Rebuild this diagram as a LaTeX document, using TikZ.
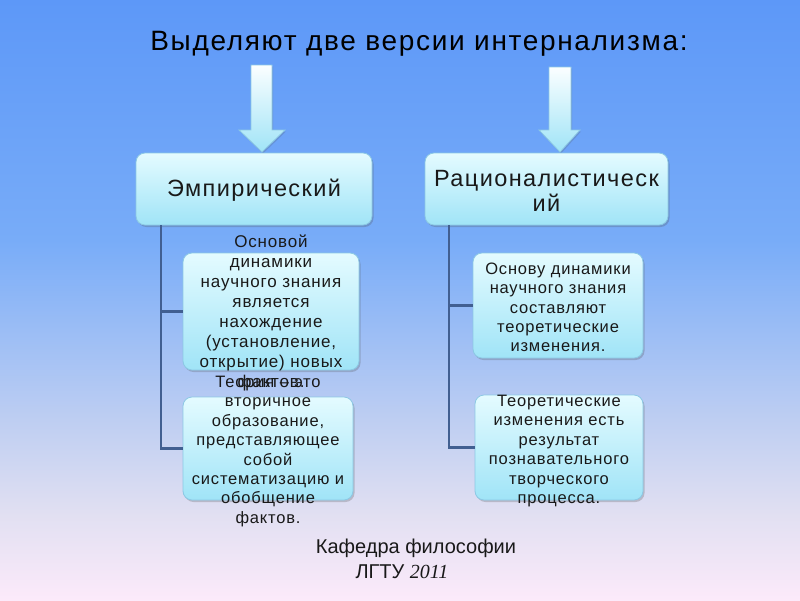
\documentclass[tikz,border=0pt]{standalone}
\usepackage{fontspec}
\setmainfont{Liberation Sans}
\newfontfamily\timesit{Liberation Serif}
\newfontfamily\titlefont[LetterSpace=6]{Liberation Sans}
\newfontfamily\boxfont[LetterSpace=6]{Liberation Sans}
\newfontfamily\smallfont[LetterSpace=5]{Liberation Sans}
\usetikzlibrary{shadows}
\definecolor{bgA}{RGB}{93,152,248}
\definecolor{bgB}{RGB}{120,172,248}
\definecolor{bgC}{RGB}{190,206,242}
\definecolor{bgD}{RGB}{226,224,242}
\definecolor{bgE}{RGB}{252,234,250}
\pgfdeclareverticalshading{bgshade}{100bp}{color(0bp)=(bgE); color(25bp)=(bgE); color(32bp)=(bgD); color(40bp)=(bgC); color(55bp)=(bgB); color(75bp)=(bgA); color(100bp)=(bgA)}
\definecolor{boxtop}{RGB}{228,251,255}
\definecolor{boxbot}{RGB}{160,228,247}
\definecolor{boxline}{RGB}{140,200,228}
\definecolor{linkc}{RGB}{65,95,145}
\definecolor{txt}{RGB}{25,25,25}
\tikzset{
  panel/.style={draw=boxline, line width=0.8pt, rounded corners=9pt, top color=boxtop, bottom color=boxbot,
    drop shadow={opacity=0.25, shadow xshift=1.5pt, shadow yshift=-2pt, fill=black!70}, inner sep=0pt},
  bigtext/.style={text=txt, align=center, inner sep=0pt, font=\boxfont\fontsize{23.5}{25}\selectfont},
  smalltext/.style={text=txt, align=center, inner sep=0pt, font=\smallfont\fontsize{16.5}{19.4}\selectfont},
  link/.style={draw=linkc, line width=2.2pt},
  arrowshape/.style={draw=boxline, line width=0.8pt, top color=white!85!boxtop, bottom color=boxbot,
    drop shadow={opacity=0.2, shadow xshift=1pt, shadow yshift=-1.5pt, fill=black!70}}
}
\begin{document}
\begin{tikzpicture}[x=1pt,y=-1pt]
\useasboundingbox (0,0) rectangle (800,600);
\shade[shading=bgshade] (0,0) rectangle (800,600);

% title
\node[text=black, inner sep=0pt, font=\titlefont\fontsize{28}{32}\selectfont] (title) at (419,44) {Выделяют две версии интернализма:};

% arrows
\path[arrowshape] (251,65) -- (272,65) -- (272,130) -- (285,130) -- (262,152) -- (239,130) -- (251,130) -- cycle;
\path[arrowshape] (549,67) -- (571,67) -- (571,130) -- (580,130) -- (560,152) -- (539,130) -- (549,130) -- cycle;

% main boxes
\node[panel, minimum width=236pt, minimum height=72pt] (e1) at (254,189) {};
\node[bigtext] (e1t) at (254,190) {Эмпирический};
\node[panel, minimum width=243pt, minimum height=72pt] (e2) at (546.5,189) {};
\node[bigtext] (e2t) at (546.5,191) {Рационалистическ\\ий};

% connectors
\coordinate (l1) at (161,225);
\coordinate (l2) at (449,225);

% child boxes
\node[panel, minimum width=176pt, minimum height=117pt] (c1) at (271,311.5) {};
\node[panel, minimum width=170pt, minimum height=103pt] (c2) at (268,448.5) {};
\node[panel, minimum width=170pt, minimum height=105pt] (r1) at (558,305.5) {};
\node[panel, minimum width=168pt, minimum height=105pt] (r2) at (559,447.5) {};

\draw[link] (l1) |- (c1.west);
\draw[link] (l1) |- (c2.west);
\draw[link] (l2) |- (r1.west);
\draw[link] (l2) |- (r2.west);

\node[smalltext, font=\smallfont\fontsize{17}{20}\selectfont] (c1t) at (271,313) {Основой\\динамики\\научного знания\\является\\нахождение\\(установление,\\открытие) новых\\фактов.};
\node[smalltext] (c2t) at (268,451.5) {Теория – это\\вторичное\\образование,\\представляющее\\собой\\систематизацию и\\обобщение\\фактов.};
\node[smalltext] (r1t) at (558,307.5) {Основу динамики\\научного знания\\составляют\\теоретические\\изменения.};
\node[smalltext] (r2t) at (559,451) {Теоретические\\изменения есть\\результат\\познавательного\\творческого\\процесса.};

% footer
\node[text=txt, inner sep=0pt, font=\fontsize{20}{24}\selectfont] (f1) at (416,548) {Кафедра философии};
\node[text=txt, inner sep=0pt, font=\fontsize{20}{24}\selectfont] (f2) at (402,572) {ЛГТУ {\timesit\itshape 2011}};
\end{tikzpicture}
\end{document}
